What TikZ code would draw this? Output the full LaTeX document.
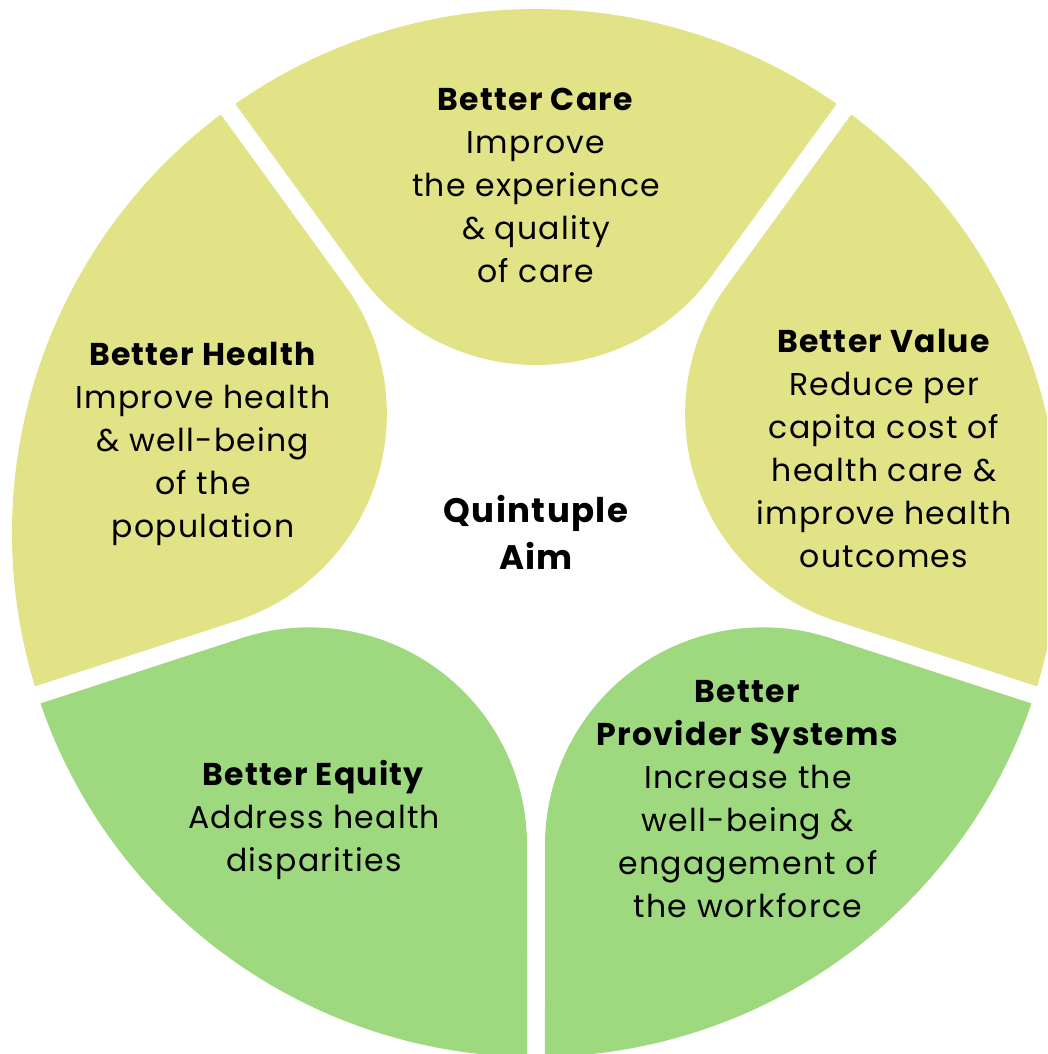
\documentclass[tikz,border=0pt]{standalone}
\usepackage{fontspec}
\setmainfont{Poppins}[LetterSpace=4]
\usetikzlibrary{calc}
\definecolor{yel}{HTML}{E2E387}
\definecolor{grn}{HTML}{9ED97F}
\begin{document}
\begin{tikzpicture}[x=1pt,y=1pt,
  lbl/.style={align=center,inner sep=0pt,font=\fontsize{31.5}{43}\selectfont}]
\useasboundingbox (-536,-521) rectangle (511,533);
\fill[white] (-536,-521) rectangle (511,533);
\clip (-536,-521) rectangle (511,533);
\foreach \th/\col in {90/yel,18/yel,-54/grn,-126/grn,162/yel}{
  \fill[\col] (\th+36-0.984:524) -- ($(\th:385.7)+(\th+126:217.7)$)
    arc[start angle=\th+126, end angle=\th+234, radius=217.7]
    -- (\th-36+0.984:524)
    arc[start angle=\th-36+0.984, end angle=\th+36-0.984, radius=524] -- cycle;
}
\node[lbl] (care) at (0,347.5) {\textbf{Better Care}\\Improve\\the experience\\\& quality\\of care};
\node[lbl] (health) at (-333,89.5) {\textbf{Better Health}\\Improve health\\\& well-being\\of the\\population};
\node[lbl] (value) at (348,84.5) {\textbf{Better Value}\\Reduce per\\capita cost of\\health care \&\\improve health\\outcomes};
\node[lbl] (equity) at (-222,-286.5) {\textbf{Better Equity}\\Address health\\disparities};
\node[lbl] (provider) at (212,-266.5) {\textbf{Better}\\\textbf{Provider Systems}\\Increase the\\well-being \&\\engagement of\\the workforce};
\node[lbl,font=\bfseries\fontsize{34}{47}\selectfont] (aim) at (0,0.5) {Quintuple\\Aim};
\end{tikzpicture}
\end{document}
